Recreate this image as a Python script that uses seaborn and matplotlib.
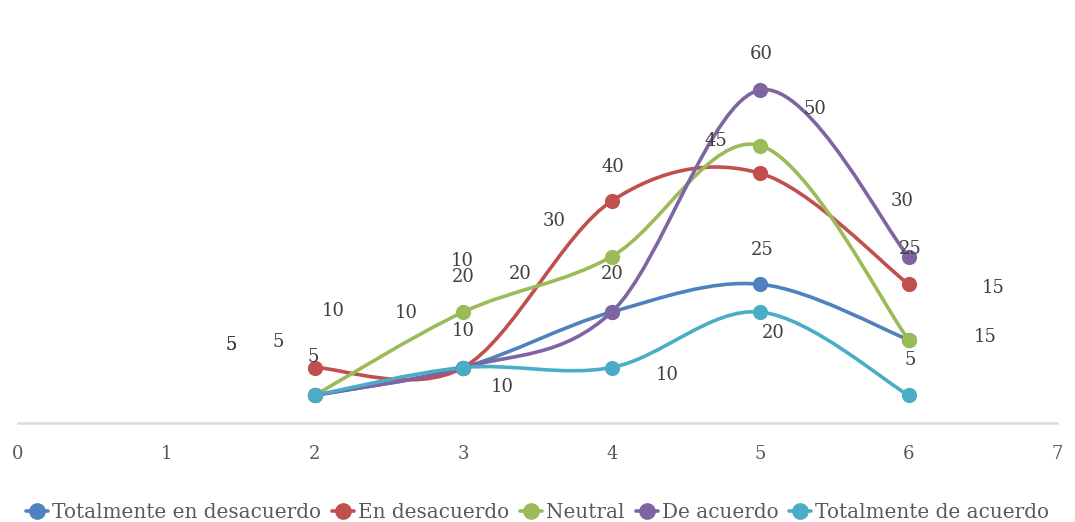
import matplotlib
matplotlib.use("Agg")
import matplotlib.pyplot as plt
import seaborn as sns
import numpy as np
import pandas as pd
from matplotlib.path import Path
from matplotlib.patches import PathPatch
from matplotlib.lines import Line2D

# data
escala = [2, 3, 4, 5, 6]
series = ["Totalmente en desacuerdo", "En desacuerdo", "Neutral",
          "De acuerdo", "Totalmente de acuerdo"]
tot_desacuerdo = [5, 10, 20, 25, 15]
en_desacuerdo = [10, 10, 40, 45, 25]
neutral = [5, 20, 30, 50, 15]
de_acuerdo = [5, 10, 20, 60, 30]
tot_acuerdo = [5, 10, 10, 20, 5]
valores = [tot_desacuerdo, en_desacuerdo, neutral, de_acuerdo, tot_acuerdo]

colores = ["#4F81BD", "#C0504D", "#9BBB59", "#8064A2", "#4BACC6"]

# where excel left the data labels, offset in pixels from each point
label_offsets = [
    [(-84, 50), (0, 37), (1, 38), (2, 34), (77, 3)],
    [(18, 56), (-1, 106), (1, 34), (-44, 32), (2, 35)],
    [(-37, 53), (0, 35), (-58, 36), (55, 37), (85, 52)],
    [(-2, 38), (-57, 54), (-91, 38), (1, 36), (-6, 55)],
    [(-84, 50), (39, -20), (56, -7), (13, -21), (2, 35)],
]

df = pd.DataFrame({
    "x": escala * len(series),
    "valor": sum(valores, []),
    "serie": np.repeat(series, len(escala)),
})


def smooth_path(xs, ys):
    # excel-like smoothed line as cubic bezier segments
    pts = np.column_stack([xs, ys]).astype(float)
    n = len(pts)
    verts = [pts[0]]
    codes = [Path.MOVETO]
    for i in range(n - 1):
        p0 = pts[max(i - 1, 0)]
        p1 = pts[i]
        p2 = pts[i + 1]
        p3 = pts[min(i + 2, n - 1)]
        verts += [p1 + (p2 - p0) / 6, p2 - (p3 - p1) / 6, p2]
        codes += [Path.CURVE4] * 3
    return Path(verts, codes)


sns.set_style("white")
plt.rcParams['font.family'] = ['DejaVu Serif', 'Liberation Serif']
texto = "#595959"

fig = plt.figure(figsize=(10.75, 5.22), dpi=100)
ax = fig.add_axes([18 / 1075, 1 - 423 / 522, 1039 / 1075, 388.5 / 522])

for nombre, ys, color, offs in zip(series, valores, colores, label_offsets):
    ax.add_patch(PathPatch(smooth_path(escala, ys), facecolor="none",
                           edgecolor=color, lw=2.6, capstyle="round",
                           joinstyle="round", zorder=2))
    sub = df[df["serie"] == nombre]
    sns.scatterplot(data=sub, x="x", y="valor", color=color, s=120,
                    edgecolor=color, linewidth=0, ax=ax, legend=False,
                    zorder=3)
    for x, y, (dx, dy) in zip(escala, ys, offs):
        ax.annotate(str(y), (x, y), xytext=(dx, dy), textcoords="offset pixels",
                    ha="center", va="center", fontsize=13, color="#404040",
                    zorder=4)

ax.set_xlim(0, 7)
ax.set_ylim(0, 70)
ax.set_xticks(range(8))
ax.set_yticks([])
ax.set_xlabel("")
ax.set_ylabel("")
for lado in ["top", "right", "left"]:
    ax.spines[lado].set_visible(False)
ax.spines["bottom"].set_color("#d9d9d9")
ax.spines["bottom"].set_linewidth(1.8)
ax.tick_params(axis="x", length=0, pad=16, labelsize=13, labelcolor=texto)

handles = [Line2D([0], [0], color=c, lw=2.6, marker="o", markersize=11,
                  label=s) for s, c in zip(series, colores)]
fig.legend(handles=handles, loc="center", bbox_to_anchor=(0.5, 1 - 512 / 522),
           ncol=5, frameon=False, fontsize=14.4, labelcolor=texto,
           handlelength=1.1, handletextpad=0.2, columnspacing=0.55)

fig.savefig("out.png", dpi=100)
